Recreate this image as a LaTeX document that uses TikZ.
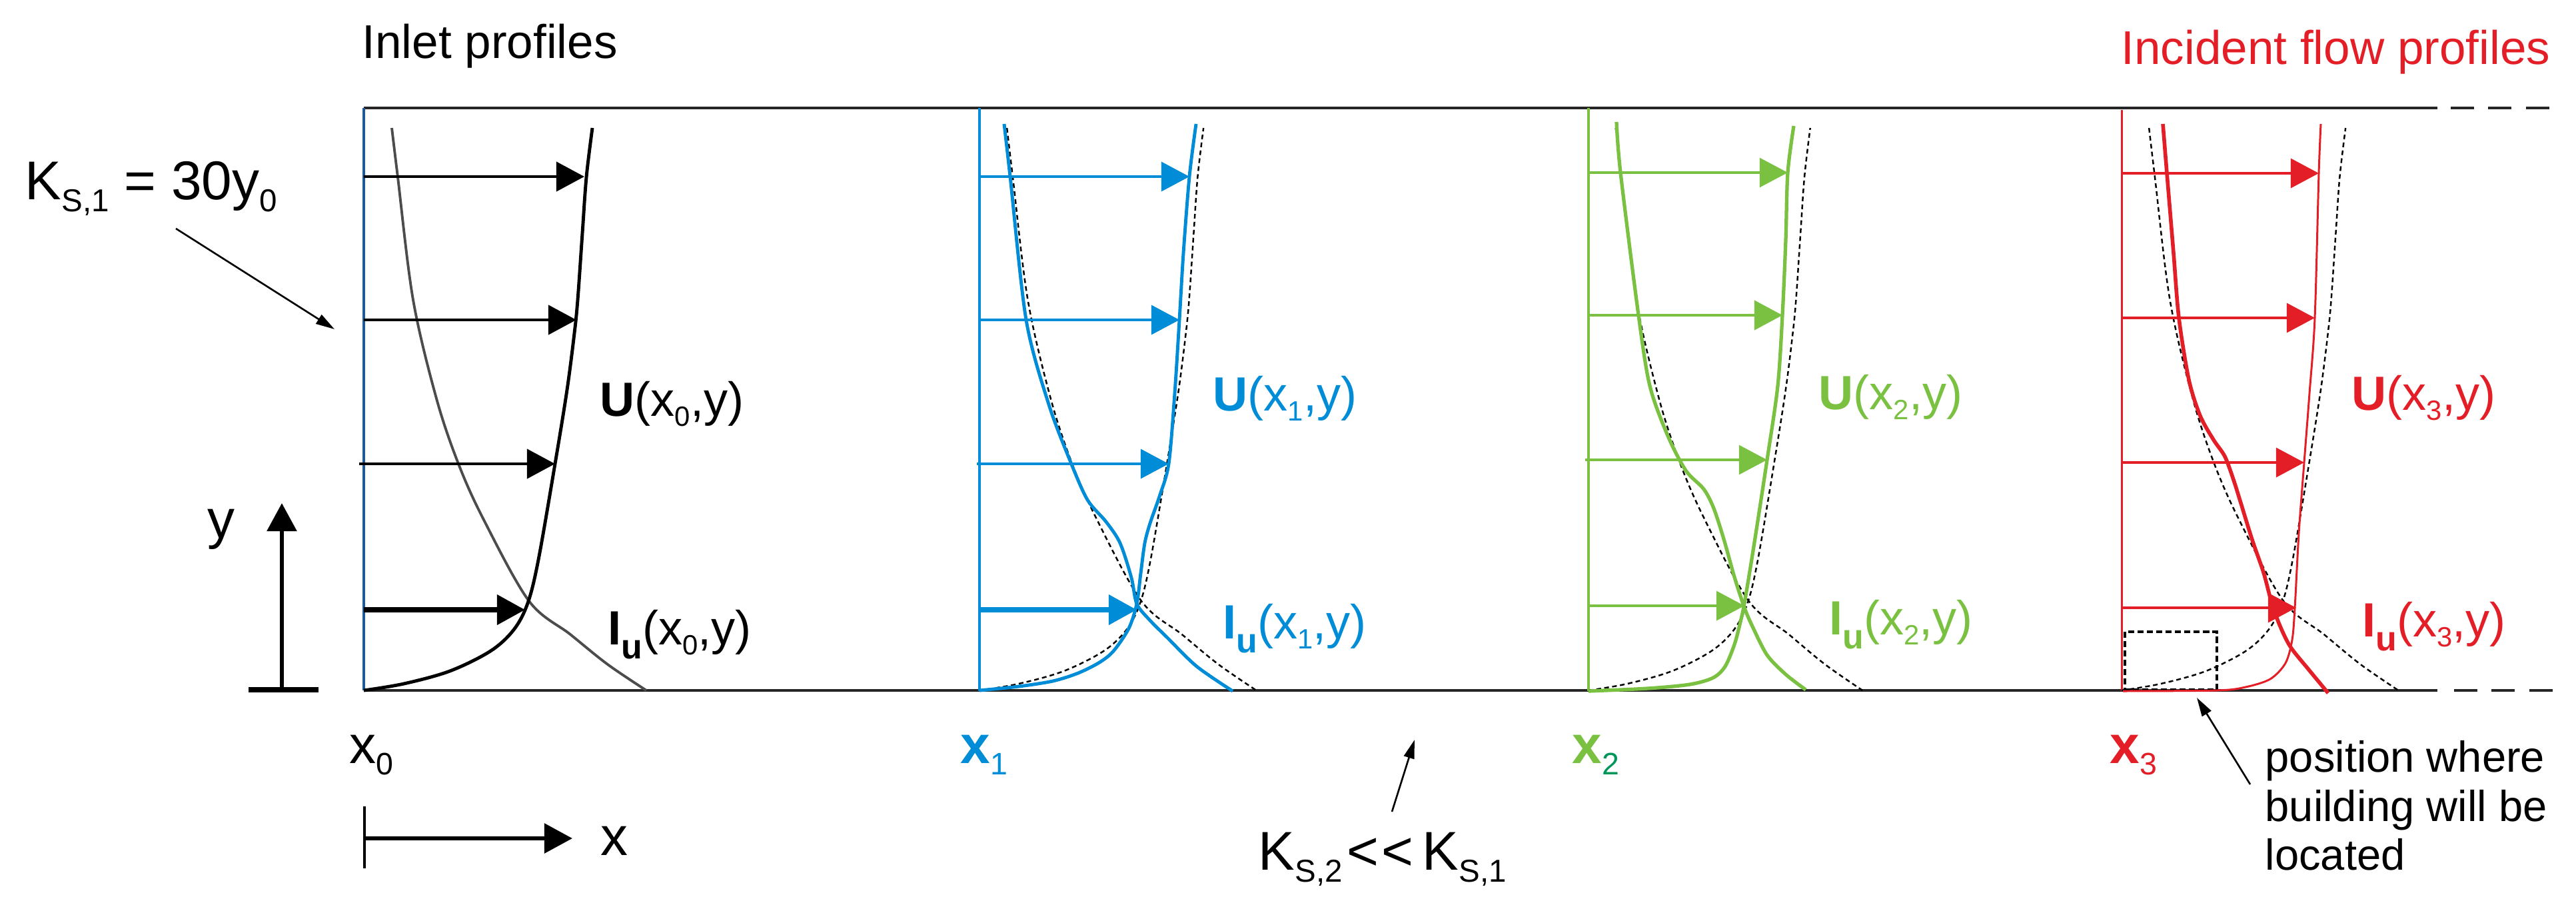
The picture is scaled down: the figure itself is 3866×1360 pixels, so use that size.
\documentclass[tikz,border=0pt]{standalone}
\usepackage{fontspec}
\setmainfont{Liberation Sans}
\usepackage{graphicx}
\usetikzlibrary{arrows.meta}
\definecolor{cblue}{RGB}{0,140,214}
\definecolor{cgreen}{RGB}{122,193,66}
\definecolor{cdkgreen}{RGB}{0,150,90}
\definecolor{cred}{RGB}{228,30,38}
\definecolor{cedge}{RGB}{31,90,150}
\newcommand\dn[1]{\raisebox{-0.22em}{\scalebox{0.58}{#1}}}
\newcommand\Iu{\textbf{I}\raisebox{-0.3em}{\scalebox{0.72}{\textbf{u}}}}
\newcommand\fsz[1]{\fontsize{#1}{#1}\selectfont}
\newcommand\inletU[1]{\draw[#1] plot[smooth,tension=0.55] coordinates {(0,1036) (60,1026) (129,1007) (190,977) (225,945) (246,905) (262,840) (287,696) (305,585) (316,500) (321,450) (328,350) (334,266) (343,192)};}
\newcommand\inletIu[1]{\draw[#1] plot[smooth,tension=0.55] coordinates {(42,192) (51,266) (74,450) (109,598) (142,696) (180,780) (248,902) (310,952) (366,997) (424,1036)};}
\begin{document}
\begin{tikzpicture}[x=0.01cm,y=-0.01cm,
  wall/.style={line width=1.3pt,black!85},
  tipbig/.style={-{Triangle[length=12pt,width=12.5pt]}},
  prof/.style={tipbig,line width=1.4pt},
  thickprof/.style={tipbig,line width=2.3pt},
  refc/.style={black,line width=0.7pt,dash pattern=on 2pt off 1.4pt},
  ptr/.style={black,line width=0.75pt,-{Triangle[length=8pt,width=4.5pt]}},
  axisline/.style={tipbig,line width=1.85pt},
  lbl/.style={inner sep=0pt,anchor=base west,font=\fsz{20.5pt}},
  title/.style={inner sep=0pt,anchor=base west,font=\fsz{20.2pt}},
  big/.style={inner sep=0pt,anchor=base west,font=\fsz{23.3pt}},
  xlab/.style={inner sep=0pt,anchor=base west,font=\fsz{22.8pt}},
  note/.style={inner sep=0pt,anchor=base west,font=\fsz{18.5pt}}]
\useasboundingbox (0,0) rectangle (3866,1360);

% channel walls
\draw[wall] (546,162) -- (3658,162);
\draw[wall] (546,1036) -- (3658,1036);
\draw[wall,dash pattern=on 10pt off 6pt] (3678,162) -- (3830,162);
\draw[wall,dash pattern=on 10pt off 6pt] (3683,1036) -- (3832,1036);

% station lines
\draw[cedge,line width=1.1pt] (546,162) -- (546,1036);
\draw[cblue,line width=0.9pt] (1470,162) -- (1470,1037);
\draw[cgreen,line width=1pt] (2384,162) -- (2384,1037);
\draw[cred,line width=0.85pt] (3184,165) -- (3184,1037);

% building position
\draw[black,line width=1.1pt,dash pattern=on 2.6pt off 1.4pt] (3189,948) rectangle (3327,1035);

% dashed reference (inlet) profiles
\begin{scope}[shift={(1470,0)},xscale=0.98]
  \inletU{refc}\inletIu{refc}
\end{scope}
\begin{scope}[shift={(2384,0)},xscale=0.97]
  \inletU{refc}\inletIu{refc}
\end{scope}
\begin{scope}[shift={(3184,0)},xscale=0.98]
  \inletU{refc}\inletIu{refc}
\end{scope}

% inlet profiles
\begin{scope}[shift={(546,0)}]
  \inletIu{black!70,line width=1.1pt}
  \inletU{black,line width=1.4pt}
\end{scope}
\draw[prof] (546,265) -- (877,265);
\draw[prof] (546,480) -- (865,480);
\draw[prof] (539,696) -- (833,696);
\draw[thickprof] (546,915) -- (788,915);

% station x1 (blue)
\draw[cblue,line width=1.4pt] plot[smooth,tension=0.5] coordinates {(1470,1036) (1529,1030) (1580,1022) (1618,1010) (1650,994) (1671,977) (1694,943) (1706,906) (1712,860) (1718,815) (1726,785) (1740,745) (1754,696) (1763,590) (1770,480) (1776,380) (1785,265) (1795,186)};
\draw[cblue,line width=1.4pt] plot[smooth,tension=0.5] coordinates {(1507,186) (1516,265) (1540,480) (1574,607) (1607,694) (1632,750) (1660,783) (1681,815) (1698,867) (1706,906) (1725,930) (1752,957) (1796,1000) (1850,1037)};
\draw[prof,cblue,line width=1.15pt] (1470,265) -- (1785,265);
\draw[prof,cblue,line width=1.15pt] (1470,480) -- (1770,480);
\draw[prof,cblue,line width=1.15pt] (1466,696) -- (1754,696);
\draw[thickprof,cblue] (1470,915) -- (1706,915);

% station x2 (green)
\draw[cgreen,line width=1.5pt] plot[smooth,tension=0.5] coordinates {(2384,1037) (2473,1033) (2536,1027) (2571,1017) (2589,1000) (2603,967) (2612,933) (2618,905) (2632,820) (2652,690) (2668,579) (2675,473) (2680,360) (2683,259) (2692,189)};
\draw[cgreen,line width=1.5pt] plot[smooth,tension=0.5] coordinates {(2426,183) (2432,259) (2459,473) (2476,579) (2503,654) (2530,706) (2557,734) (2572,763) (2587,809) (2603,866) (2618,912) (2630,940) (2652,983) (2680,1012) (2710,1035)};
\draw[prof,cgreen,line width=0.9pt] (2384,259) -- (2683,259);
\draw[prof,cgreen,line width=1.4pt] (2384,473) -- (2675,473);
\draw[prof,cgreen,line width=0.9pt] (2379,690) -- (2652,690);
\draw[prof,cgreen,line width=1.15pt] (2384,909) -- (2618,909);

% station x3 (red)
\draw[cred,line width=0.85pt] plot[smooth,tension=0.5] coordinates {(3483,186) (3480,260) (3474,477) (3466,590) (3458,694) (3450,800) (3444,912) (3440,960) (3430,995) (3407,1019) (3370,1031) (3327,1036) (3186,1037)};
\draw[cred,line width=1.6pt] plot[smooth,tension=0.5] coordinates {(3246,186) (3252,260) (3262,380) (3270,477) (3285,570) (3302,624) (3322,660) (3339,685) (3352,720) (3363,755) (3380,810) (3397,859) (3408,900) (3420,935) (3437,970) (3465,1005) (3494,1040)};
\draw[prof,cred,line width=1.15pt] (3184,260) -- (3480,260);
\draw[prof,cred,line width=1.15pt] (3184,477) -- (3474,477);
\draw[prof,cred,line width=1.15pt] (3184,694) -- (3458,694);
\draw[prof,cred,line width=1.15pt] (3184,912) -- (3446,912);

% axes
\draw[line width=2.3pt] (373,1035) -- (478,1035);
\draw[axisline] (423,1035) -- (423,755);
\draw[line width=1.2pt] (547,1210) -- (547,1303);
\draw[axisline] (547,1258) -- (859,1258);

% titles and labels
\node[title] (inlet) at (543,87) {Inlet profiles};
\node[title,anchor=base east,text=cred] (incid) at (3828,96) {Incident flow profiles};
\node[big] (ks1) at (37,299) {K\dn{S,1} = 30y\dn{0}};
\node[big] (ks2) at (1888,1305) {K\dn{S,2}\kern2pt<\kern1pt<\kern4pt K\dn{S,1}};
\node[big] (ylab) at (311,807) {y};
\node[big] (xlab) at (901,1283) {x};

\node[lbl] (u0) at (900,624) {\textbf{U}(x\dn{0},y)};
\node[lbl] (i0) at (912,967) {\Iu(x\dn{0},y)};
\node[lbl,text=cblue] (u1) at (1820,616) {\textbf{U}(x\dn{1},y)};
\node[lbl,text=cblue] (i1) at (1835,958) {\Iu(x\dn{1},y)};
\node[lbl,text=cgreen] (u2) at (2729,614) {\textbf{U}(x\dn{2},y)};
\node[lbl,text=cgreen] (i2) at (2745,952) {\Iu(x\dn{2},y)};
\node[lbl,text=cred] (u3) at (3529,615) {\textbf{U}(x\dn{3},y)};
\node[lbl,text=cred] (i3) at (3545,955) {\Iu(x\dn{3},y)};

\node[xlab] (x0) at (524,1145) {x\dn{0}};
\node[xlab,text=cblue] (x1) at (1441,1145) {\textbf{x}\dn{1}};
\node[xlab,text=cgreen] (x2) at (2359,1145) {\textbf{x}\textcolor{cdkgreen}{\dn{2}}};
\node[xlab,text=cred] (x3) at (3166,1145) {\textbf{x}\dn{3}};

\node[note] (pos1) at (3399,1158) {position where};
\node[note] (pos2) at (3399,1232) {building will be};
\node[note] (pos3) at (3399,1305) {located};

% pointers
\coordinate (katail) at (264,343);
\coordinate (katip) at (502,494);
\draw[ptr] (katail) -- (katip);
\coordinate (kbtail) at (2089,1218);
\coordinate (kbtip) at (2123,1110);
\draw[ptr] (kbtail) -- (kbtip);
\coordinate (pbtail) at (3377,1177);
\coordinate (pbtip) at (3297,1047);
\draw[ptr] (pbtail) -- (pbtip);
\end{tikzpicture}
\end{document}
